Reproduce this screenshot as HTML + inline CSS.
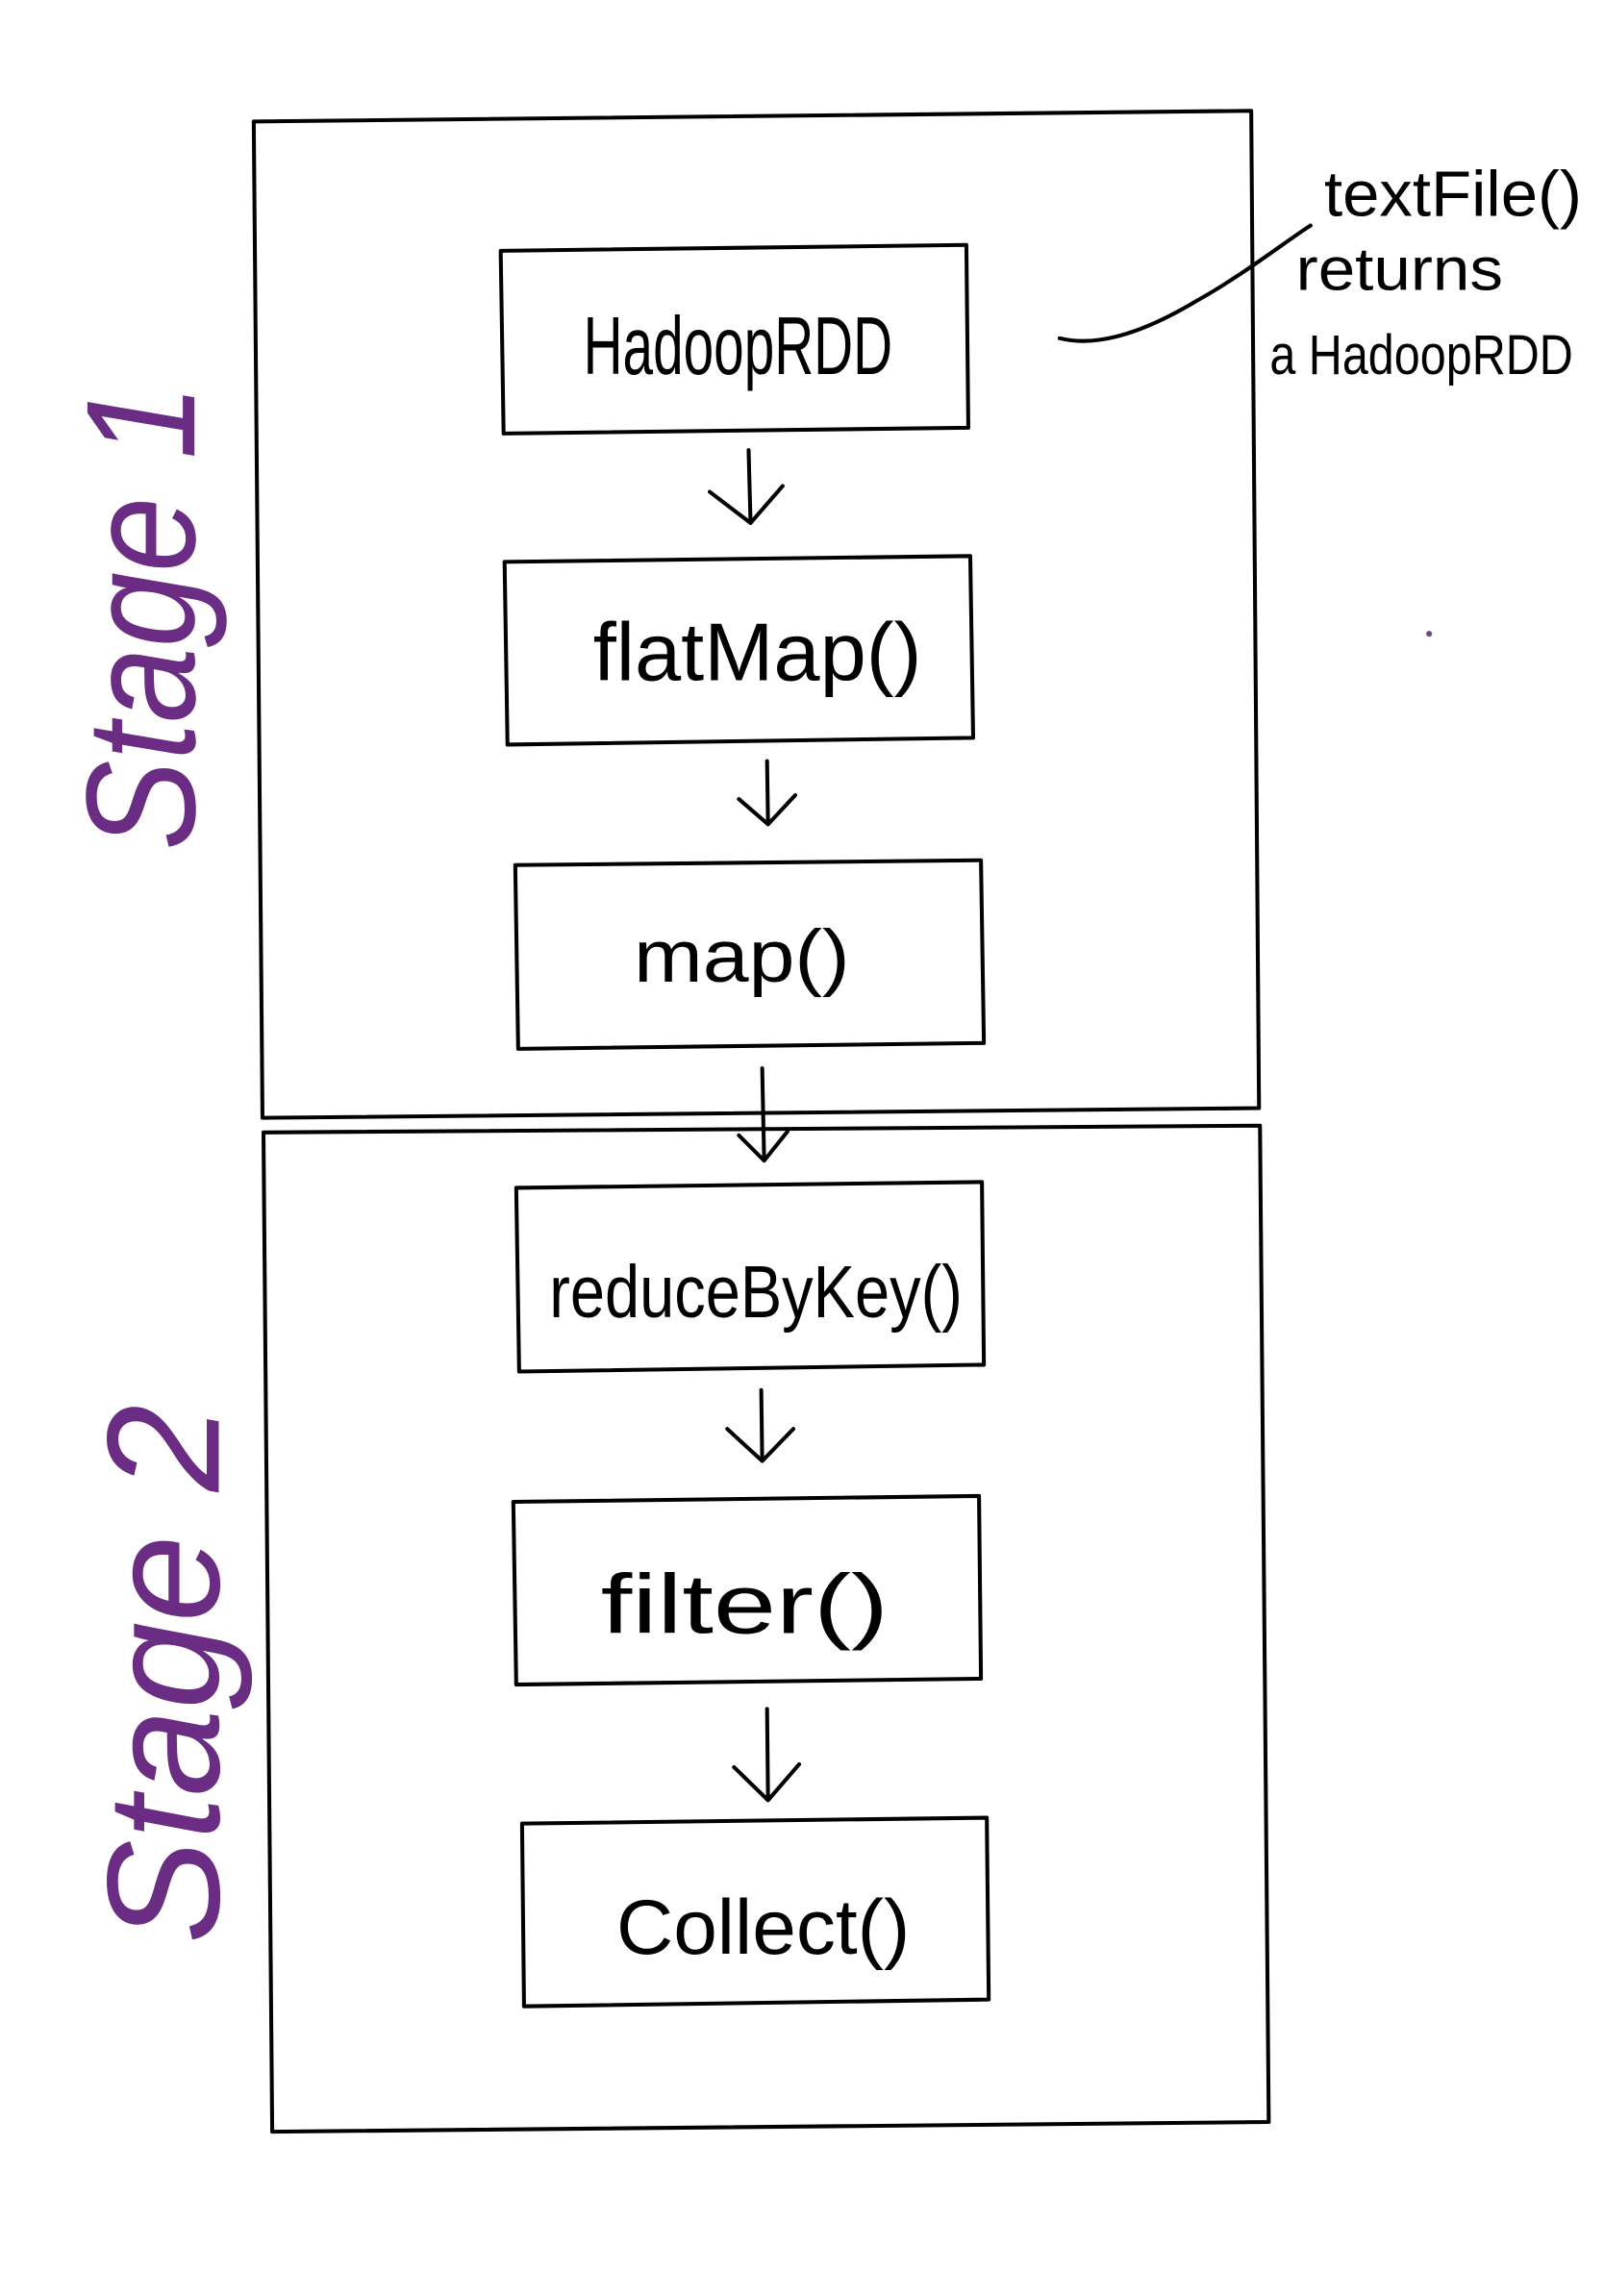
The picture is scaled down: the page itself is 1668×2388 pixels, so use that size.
<!DOCTYPE html>
<html><head><meta charset="utf-8"><style>
html,body{margin:0;padding:0;background:#fff;}
svg{display:block;}
text{font-family:"Liberation Sans",sans-serif;}
</style></head><body>
<svg width="1668" height="2388" viewBox="0 0 1668 2388" xmlns="http://www.w3.org/2000/svg">
<g transform="scale(1.011)">
<g fill="none" stroke="#000" stroke-width="4" stroke-linejoin="round" stroke-linecap="round">
  <path d="M261 125 L1287 114 L1295 1140 L270 1150 Z"/>
  <path d="M271 1165 L1296 1158 L1305 2183 L280 2193 Z"/>
  <path d="M515 258 L994 252 L996 440 L518 446 Z"/>
  <path d="M519 578 L998 572 L1001 759 L522 766 Z"/>
  <path d="M530 890 L1009 885 L1012 1073 L533 1079 Z"/>
  <path d="M531 1222 L1010 1216 L1012 1404 L534 1411 Z"/>
  <path d="M528 1545 L1007 1539 L1009 1727 L531 1733 Z"/>
  <path d="M537 1876 L1015 1870 L1017 2057 L539 2064 Z"/>
  <path d="M770 463 L772 538 M730 506 L772 538 L805 500"/>
  <path d="M789 783 L790 848 M760 822 L790 848 L818 818"/>
  <path d="M784 1099 L786 1194 M760 1168 L786 1194 L810 1164"/>
  <path d="M783 1430 L784 1503 M748 1470 L784 1503 L816 1470"/>
  <path d="M789 1758 L790 1852 M755 1818 L790 1852 L822 1815"/>
  <path d="M1090 348 C1130 358 1180 340 1230 310 C1280 282 1320 250 1348 232"/>
</g>
<g fill="#000">
  <text x="600" y="385" font-size="84" textLength="318" lengthAdjust="spacingAndGlyphs">HadoopRDD</text>
  <text x="610" y="700" font-size="84" textLength="338" lengthAdjust="spacingAndGlyphs">flatMap()</text>
  <text x="652" y="1010" font-size="76" textLength="222" lengthAdjust="spacingAndGlyphs">map()</text>
  <text x="565" y="1355" font-size="76" textLength="425" lengthAdjust="spacingAndGlyphs">reduceByKey()</text>
  <text x="618" y="1680" font-size="86" textLength="296" lengthAdjust="spacingAndGlyphs">filter()</text>
  <text x="634" y="2010" font-size="80" textLength="302" lengthAdjust="spacingAndGlyphs">Collect()</text>
  <text x="1362" y="222" font-size="66" textLength="265" lengthAdjust="spacingAndGlyphs">textFile()</text>
  <text x="1333" y="298" font-size="62" textLength="213" lengthAdjust="spacingAndGlyphs">returns</text>
  <text x="1306" y="385" font-size="58" textLength="312" lengthAdjust="spacingAndGlyphs">a HadoopRDD</text>
</g>
<circle cx="1470" cy="652" r="3" fill="#6a4a80"/>
<g fill="#6b2d83" font-style="italic">
  <text transform="translate(200,875) rotate(-90)" font-size="160" textLength="480" lengthAdjust="spacingAndGlyphs">Stage 1</text>
  <text transform="translate(225,2000) rotate(-90)" font-size="165" textLength="555" lengthAdjust="spacingAndGlyphs">Stage 2</text>
</g>
</g>
</svg>
</body></html>
